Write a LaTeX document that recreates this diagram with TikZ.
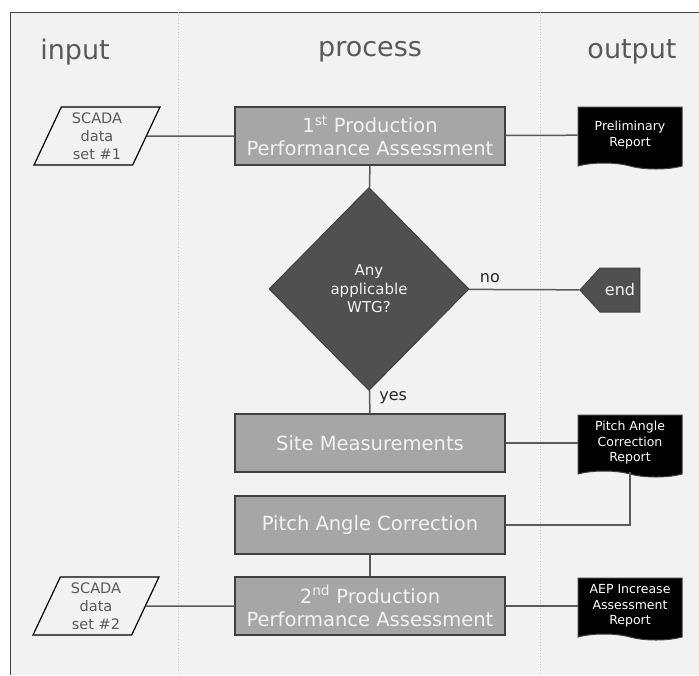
\documentclass[tikz,border=0pt]{standalone}
\usepackage{fontspec}
\setmainfont{DejaVu Sans}
\usetikzlibrary{shapes.geometric, shapes.symbols, positioning}
\definecolor{lanebg}{HTML}{F2F2F2}
\definecolor{boxfill}{HTML}{A6A6A6}
\definecolor{boxline}{HTML}{404040}
\definecolor{darkfill}{HTML}{505050}
\definecolor{connline}{HTML}{5A5A5A}
\definecolor{headtext}{HTML}{595959}
\definecolor{lanesep}{HTML}{C8C8C8}
\begin{document}
\begin{tikzpicture}[x=1pt, y=-1pt,
  procbox/.style={draw=boxline, line width=1.5pt, fill=boxfill, text=lanebg, minimum width=270pt, minimum height=58pt, inner sep=2pt, align=center, font=\fontsize{19.5}{23}\selectfont},
  databox/.style={trapezium, trapezium left angle=67, trapezium right angle=113, trapezium stretches, draw=black, line width=1.2pt, fill=lanebg, text=headtext, minimum width=127pt, minimum height=58pt, inner xsep=1pt, inner ysep=0pt, align=center, font=\fontsize{14.5}{18}\selectfont},
  docbox/.style={tape, tape bend top=none, tape bend bottom=out and in, tape bend height=6pt, draw=boxline, line width=1pt, fill=black, text=white, minimum width=104pt, minimum height=62pt, inner sep=1pt, align=center, font=\fontsize{12.5}{15.5}\selectfont},
  decision/.style={diamond, draw=boxline, line width=1pt, fill=darkfill, text=lanebg, minimum width=200pt, minimum height=203pt, inner sep=0pt, align=center, font=\fontsize{15}{18.5}\selectfont},
  endbox/.style={signal, signal to=west, signal from=nowhere, signal pointer angle=95, draw=boxline, line width=1pt, fill=darkfill, text=lanebg, minimum width=60pt, minimum height=44pt, inner sep=1pt, font=\fontsize{16}{18}\selectfont},
  lanehead/.style={text=headtext, font=\fontsize{27}{30}\selectfont},
  conn/.style={draw=connline, line width=1.5pt},
  condlabel/.style={text=black!85, font=\fontsize{16}{18}\selectfont, inner sep=2pt}]
  \useasboundingbox (0,0) rectangle (699,675);
  % Lanes
  \fill[lanebg] (10,12) rectangle (699,675);
  \draw[draw=boxline, line width=1pt] (10,675) -- (10,12) -- (699,12);
  \draw[lanesep, dotted, line width=0.8pt] (178,12) -- (178,675);
  \draw[lanesep, dotted, line width=0.8pt] (540,12) -- (540,675);
  \node[lanehead] (hin) at (75,52) {input};
  \node[lanehead] (hproc) at (370,52) {process};
  \node[lanehead] (hout) at (632,52) {output};
  % Process
  \node[procbox] (prod1) at (370,136) {1\textsuperscript{st} Production\\Performance Assessment};
  \node[decision] (wtg) at (369,289) {Any\\applicable\\WTG?};
  \node[procbox] (site) at (370,443) {Site Measurements};
  \node[procbox] (pitch) at (370,525) {Pitch Angle Correction};
  \node[procbox] (prod2) at (370,606) {2\textsuperscript{nd} Production\\Performance Assessment};
  % Inputs and outputs
  \node[databox] (scada1) at (97,136) {SCADA\\data\\set \#1};
  \node[databox] (scada2) at (96,606) {SCADA\\data\\set \#2};
  \node[docbox] (prelim) at (630,135) {Preliminary\\Report};
  \node[docbox] (pitchrep) at (630,443) {Pitch Angle\\Correction\\Report};
  \node[docbox] (aeprep) at (630,606) {AEP Increase\\Assessment\\Report};
  \node[endbox] (stop) at (620,290) {end};
  % Connectors
  \draw[conn] (scada1) -- (prod1);
  \draw[conn] (prod1) -- (prelim);
  \draw[conn] (prod1) -- (wtg);
  \draw[conn] (wtg) -- node[condlabel, pos=0, above right=4pt and 8pt] {no} (stop);
  \draw[conn] (wtg) -- node[condlabel, pos=0, below right=-2pt and 7pt] {yes} (site);
  \draw[conn] (site) -- (pitchrep);
  \draw[conn] (pitch.east) -| (pitchrep.south);
  \draw[conn] (pitch) -- (prod2);
  \draw[conn] (scada2) -- (prod2);
  \draw[conn] (prod2) -- (aeprep);
\end{tikzpicture}
\end{document}
